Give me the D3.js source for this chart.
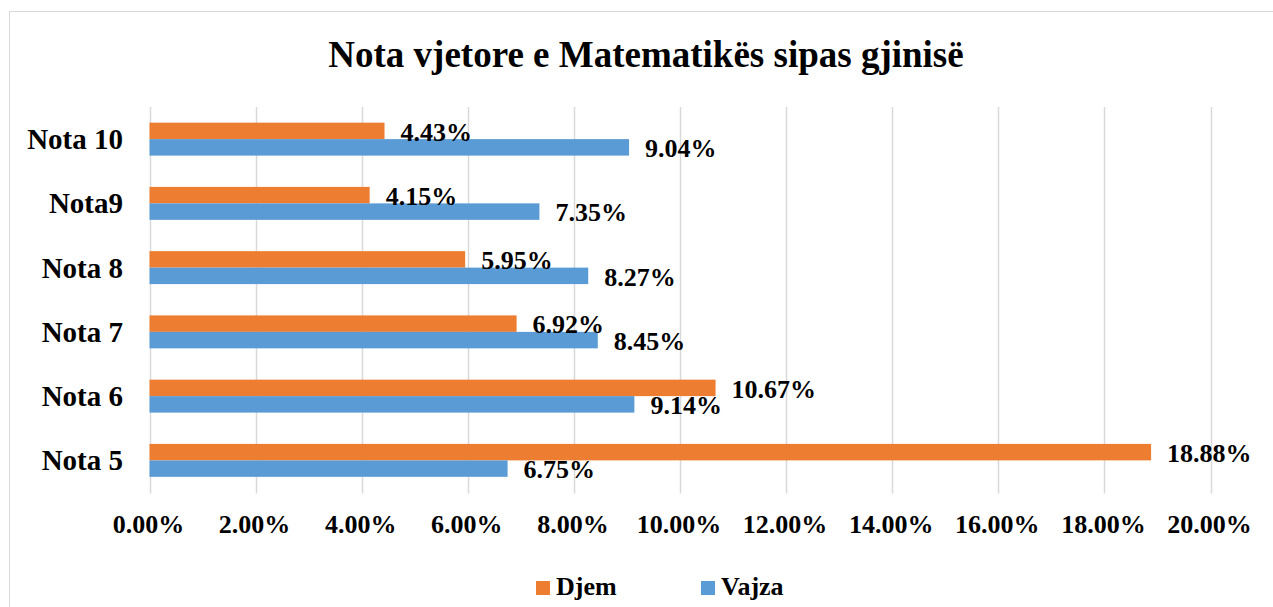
<!DOCTYPE html>
<html>
<head>
<meta charset="utf-8">
<script src="https://cdn.jsdelivr.net/npm/d3@7"></script>
<style>
  body { margin: 0; background: #fff; }
  text { font-family: "Liberation Serif", "Times New Roman", serif; font-weight: bold; fill: #000; }
</style>
</head>
<body>
<div id="chart"></div>
<script>
// categories top to bottom
const categories = ["Nota 10", "Nota9", "Nota 8", "Nota 7", "Nota 6", "Nota 5"];
const djem = [4.43, 4.15, 5.95, 6.92, 10.67, 18.88];
const vajza = [9.04, 7.35, 8.27, 8.45, 9.14, 6.75];
const ticks = [0, 2, 4, 6, 8, 10, 12, 14, 16, 18, 20];
const seriesNames = ["Djem", "Vajza"];
const colors = ["#ED7D31", "#5B9BD5"];

const W = 1273, H = 607;
const margin = {top: 107, right: 62.5, bottom: 114.5, left: 149.5};

const svg = d3.select("#chart")
  .append("svg")
  .attr("width", W)
  .attr("height", H);

// chart border
svg.append("rect")
  .attr("x", 9.5).attr("y", 11.5)
  .attr("width", W + 20).attr("height", H + 20)
  .attr("fill", "none")
  .attr("stroke", "#d9d9d9");

svg.append("text")
  .attr("x", 646).attr("y", 66.5)
  .attr("text-anchor", "middle")
  .style("font-size", "37px")
  .text("Nota vjetore e Matematikës sipas gjinisë");

const x = d3.scaleLinear()
  .domain([0, 20])
  .range([margin.left, W - margin.right]);

const y = d3.scaleBand()
  .domain(categories)
  .range([margin.top, H - margin.bottom]);

const inner = d3.scaleBand()
  .domain(seriesNames)
  .range([0, y.bandwidth()])
  .paddingOuter(0.95);

// gridlines
svg.append("g")
  .selectAll("line")
  .data(ticks)
  .join("line")
  .attr("x1", d => Math.round(x(d)) + 0.5)
  .attr("x2", d => Math.round(x(d)) + 0.5)
  .attr("y1", margin.top)
  .attr("y2", H - margin.bottom + 1)
  .attr("stroke", "#d9d9d9")
  .attr("stroke-width", 1.5);

// x tick labels
svg.append("g")
  .selectAll("text")
  .data(ticks)
  .join("text")
  .attr("x", d => x(d) - 1)
  .attr("y", 532.5)
  .attr("text-anchor", "middle")
  .style("font-size", "26px")
  .text(d => d.toFixed(2) + "%");

// y labels
svg.append("g")
  .selectAll("text")
  .data(categories)
  .join("text")
  .attr("x", 123)
  .attr("y", d => y(d) + y.bandwidth() / 2 + 10)
  .attr("text-anchor", "end")
  .style("font-size", "29px")
  .text(d => d);

const rows = [];
categories.forEach((c, i) => {
  rows.push({cat: c, s: "Djem", v: djem[i], color: colors[0]});
  rows.push({cat: c, s: "Vajza", v: vajza[i], color: colors[1]});
});

svg.append("g")
  .selectAll("rect")
  .data(rows)
  .join("rect")
  .attr("x", x(0))
  .attr("y", d => y(d.cat) + inner(d.s))
  .attr("width", d => x(d.v) - x(0))
  .attr("height", inner.bandwidth())
  .attr("fill", d => d.color);

svg.append("g")
  .selectAll("text")
  .data(rows)
  .join("text")
  .attr("x", d => x(d.v) + 16)
  .attr("y", d => y(d.cat) + inner(d.s) + inner.bandwidth() + 1.5)
  .style("font-size", "26px")
  .text(d => d.v.toFixed(2) + "%");

// legend
const legendX = [536, 701];
const legend = svg.append("g")
  .selectAll("g")
  .data(seriesNames)
  .join("g")
  .attr("transform", (d, i) => "translate(" + legendX[i] + ",581)");

legend.append("rect")
  .attr("width", 14).attr("height", 14)
  .attr("fill", (d, i) => colors[i]);

legend.append("text")
  .attr("x", 20).attr("y", 14)
  .style("font-size", "26px")
  .text(d => d);
</script>
</body>
</html>
